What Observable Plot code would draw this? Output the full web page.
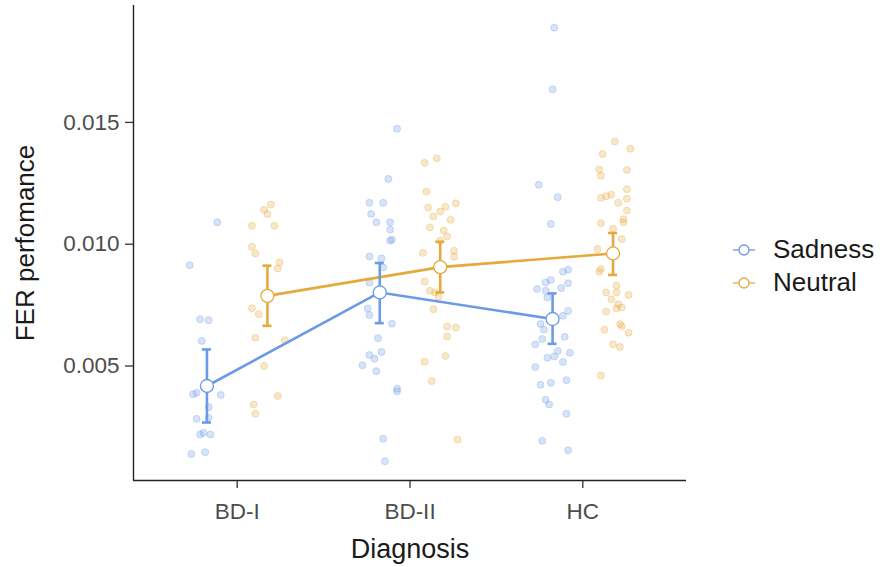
<!DOCTYPE html>
<html><head><meta charset="utf-8">
<script src="https://cdn.jsdelivr.net/npm/d3@7"></script>
<script src="https://cdn.jsdelivr.net/npm/@observablehq/plot@0.6"></script>
<style>
body{margin:0;background:#fff;font-family:"Liberation Sans",Arial,Helvetica,sans-serif;}
#wrap{position:relative;width:884px;height:567px;}
#legend{position:absolute;left:731px;top:233px;}
.item{display:flex;align-items:center;height:33px;font-size:26px;color:#1a1a1a;white-space:nowrap;}
.item svg{margin-right:16px;}
</style></head><body><div id="wrap"></div>
<script>
// ---- data ----
const diagnosis = ["BD-I", "BD-II", "HC"];
const emotions = ["Sadness", "Neutral"];
const colors = ["#6b9be6", "#e6aa3c"];

const meanSadness = [0.00418, 0.00802, 0.00693];
const lowSadness  = [0.00268, 0.00676, 0.00591];
const highSadness = [0.00568, 0.00923, 0.00798];
const meanNeutral = [0.00788, 0.00906, 0.00962];
const lowNeutral  = [0.00665, 0.00802, 0.00874];
const highNeutral = [0.00912, 0.01010, 0.01046];

// individual scores, with the horizontal jitter (category units)
const sadBDI = [0.01090, 0.00914, 0.00692, 0.00688, 0.00603, 0.00384, 0.00390, 0.00381, 0.00331, 0.00283, 0.00287, 0.00226, 0.00219, 0.00219, 0.00139, 0.00146];
const sadBDIJit = [0.06, -0.10, -0.04, 0.01, -0.03, -0.08, -0.06, 0.08, 0.01, -0.06, 0.01, -0.02, -0.04, 0.02, -0.09, -0.01];
const neuBDI = [0.01163, 0.01141, 0.01124, 0.01076, 0.01076, 0.00990, 0.00962, 0.00925, 0.00900, 0.00737, 0.00713, 0.00616, 0.00606, 0.00500, 0.00377, 0.00342, 0.00304];
const neuBDIJit = [0.02, -0.02, 0.00, -0.09, 0.04, -0.09, -0.07, 0.07, 0.06, -0.09, -0.05, -0.07, 0.10, -0.02, 0.06, -0.08, -0.07];
const sadBDII = [0.01474, 0.01268, 0.01170, 0.01170, 0.01124, 0.01090, 0.01090, 0.01060, 0.01014, 0.01019, 0.00950, 0.00942, 0.00905, 0.00843, 0.00736, 0.00709, 0.00674, 0.00614, 0.00558, 0.00545, 0.00530, 0.00503, 0.00479, 0.00407, 0.00396, 0.00201, 0.00109];
const sadBDIIJit = [0.10, 0.05, -0.06, 0.02, -0.05, -0.02, 0.06, 0.06, 0.06, 0.07, -0.06, 0.01, 0.02, -0.06, -0.07, -0.06, 0.07, -0.01, 0.01, -0.06, -0.03, -0.10, -0.02, 0.10, 0.10, 0.02, 0.03];
const neuBDII = [0.01334, 0.01353, 0.01216, 0.01151, 0.01114, 0.01134, 0.01154, 0.01168, 0.01100, 0.01069, 0.01056, 0.01032, 0.01014, 0.00964, 0.00973, 0.00949, 0.00847, 0.00809, 0.00802, 0.00784, 0.00733, 0.00662, 0.00658, 0.00621, 0.00541, 0.00518, 0.00438, 0.00198];
const neuBDIIJit = [-0.09, -0.02, -0.08, -0.07, -0.04, 0.00, 0.03, 0.09, 0.06, -0.06, 0.02, 0.04, 0.00, -0.10, 0.08, 0.08, -0.09, -0.06, -0.03, -0.01, -0.04, 0.04, 0.09, 0.04, 0.03, -0.09, -0.05, 0.10];
const sadHC = [0.01889, 0.01636, 0.01244, 0.01193, 0.01083, 0.00887, 0.00895, 0.00843, 0.00853, 0.00840, 0.00816, 0.00809, 0.00820, 0.00781, 0.00726, 0.00706, 0.00672, 0.00650, 0.00620, 0.00611, 0.00589, 0.00554, 0.00562, 0.00534, 0.00539, 0.00516, 0.00496, 0.00423, 0.00431, 0.00442, 0.00361, 0.00342, 0.00304, 0.00193, 0.00154];
const sadHCJit = [0.01, 0.00, -0.08, 0.03, -0.01, 0.06, 0.09, -0.04, -0.01, 0.09, -0.09, -0.04, 0.05, -0.03, 0.09, 0.06, -0.07, -0.05, 0.07, -0.06, -0.10, 0.10, 0.03, -0.03, 0.01, 0.06, -0.10, -0.07, -0.01, 0.08, -0.04, -0.02, 0.08, -0.06, 0.09];
const neuHC = [0.01422, 0.01392, 0.01370, 0.01307, 0.01281, 0.01305, 0.01226, 0.01190, 0.01197, 0.01204, 0.01187, 0.01170, 0.01138, 0.01103, 0.01090, 0.01086, 0.01063, 0.01021, 0.00980, 0.00898, 0.00887, 0.00831, 0.00802, 0.00802, 0.00774, 0.00792, 0.00754, 0.00736, 0.00740, 0.00724, 0.00672, 0.00663, 0.00637, 0.00649, 0.00589, 0.00578, 0.00461];
const neuHCJit = [0.01, 0.10, -0.06, -0.08, -0.07, 0.08, 0.08, -0.07, -0.04, -0.01, 0.08, 0.03, 0.08, 0.06, 0.06, -0.07, 0.00, 0.05, -0.09, -0.07, -0.08, 0.02, -0.04, 0.02, -0.01, 0.09, 0.03, 0.02, 0.05, -0.04, 0.04, 0.05, 0.09, -0.05, 0.00, 0.04, -0.07];

const yTicks = [0.005, 0.010, 0.015];

// ---- build tables ----
const groups = [
  ["Sadness", 0, sadBDI, sadBDIJit], ["Neutral", 0, neuBDI, neuBDIJit],
  ["Sadness", 1, sadBDII, sadBDIIJit], ["Neutral", 1, neuBDII, neuBDIIJit],
  ["Sadness", 2, sadHC, sadHCJit], ["Neutral", 2, neuHC, neuHCJit]
];
const points = groups.flatMap(([emotion, gi, vals, jit]) =>
  vals.map((v, k) => ({emotion, gi, value: v, jitter: jit[k]})));

const summary = [];
diagnosis.forEach((d, gi) => {
  summary.push({emotion: "Sadness", gi, mean: meanSadness[gi], lo: lowSadness[gi], hi: highSadness[gi]});
  summary.push({emotion: "Neutral", gi, mean: meanNeutral[gi], lo: lowNeutral[gi], hi: highNeutral[gi]});
});

// dodge within each diagnosis group
const dodgeHalf = 0.175, capHalf = 0.026;
const xPos = d => d.gi + (d.emotion === "Sadness" ? -dodgeHalf : dodgeHalf);

const xDomain = [-0.6, 2.6];
const yDomain = [0.0003, 0.0198];
const colorScale = {domain: emotions, range: colors};

const chart = Plot.plot({
  width: 884, height: 567,
  marginLeft: 133, marginRight: 198, marginTop: 5, marginBottom: 87,
  style: {fontFamily: '"Liberation Sans", Arial, Helvetica, sans-serif', color: "#4d4d4d", background: "#fff"},
  x: {type: "linear", domain: xDomain},
  y: {domain: yDomain},
  color: colorScale,
  marks: [
    Plot.dot(points, {x: d => xPos(d) + d.jitter, y: "value", r: 3.5,
      fill: "emotion", fillOpacity: 0.28, stroke: "emotion", strokeOpacity: 0.3, strokeWidth: 1}),
    Plot.line(summary, {x: xPos, y: "mean", z: "emotion", stroke: "emotion", strokeWidth: 2.6}),
    Plot.ruleX(summary, {x: xPos, y1: "lo", y2: "hi", stroke: "emotion", strokeWidth: 2.6}),
    Plot.ruleY(summary, {y: "lo", x1: d => xPos(d) - capHalf, x2: d => xPos(d) + capHalf, stroke: "emotion", strokeWidth: 2.6}),
    Plot.ruleY(summary, {y: "hi", x1: d => xPos(d) - capHalf, x2: d => xPos(d) + capHalf, stroke: "emotion", strokeWidth: 2.6}),
    Plot.dot(summary, {x: xPos, y: "mean", r: 6.5, fill: "white", stroke: "emotion", strokeWidth: 1.3}),
    Plot.axisY({ticks: yTicks, tickFormat: d3.format(".3f"), tickSize: 8, tickPadding: 6, fontSize: 22.5, label: null, stroke: "#333", strokeWidth: 1.3}),
    Plot.axisX({ticks: diagnosis.map((_, i) => i), tickFormat: i => diagnosis[i], tickSize: 8, tickPadding: 15, fontSize: 22.5, label: null, stroke: "#333", strokeWidth: 1.3}),
    Plot.ruleX([xDomain[0]], {stroke: "#222", strokeWidth: 1.4}),
    Plot.ruleY([yDomain[0]], {stroke: "#222", strokeWidth: 1.4}),
    Plot.text(["FER perfomance"], {frameAnchor: "left", dx: -108, rotate: -90, fontSize: 26, fill: "#1a1a1a", textAnchor: "middle", lineAnchor: "middle"}),
    Plot.text(["Diagnosis"], {frameAnchor: "bottom", dy: 69, fontSize: 27, fill: "#1a1a1a", textAnchor: "middle", lineAnchor: "middle"})
  ]
});

const wrap = document.getElementById("wrap");
wrap.appendChild(chart);

const legend = document.createElement("div");
legend.id = "legend";
emotions.forEach((e, i) => {
  const row = document.createElement("div");
  row.className = "item";
  row.innerHTML = `<svg width="26" height="20"><line x1="2" x2="24" y1="10" y2="10" stroke="${colors[i]}" stroke-opacity="0.8" stroke-width="1.6"/><circle cx="13" cy="10" r="5" fill="white" stroke="${colors[i]}" stroke-width="1.3"/></svg><span>${e}</span>`;
  legend.appendChild(row);
});
wrap.appendChild(legend);
</script></body></html>
